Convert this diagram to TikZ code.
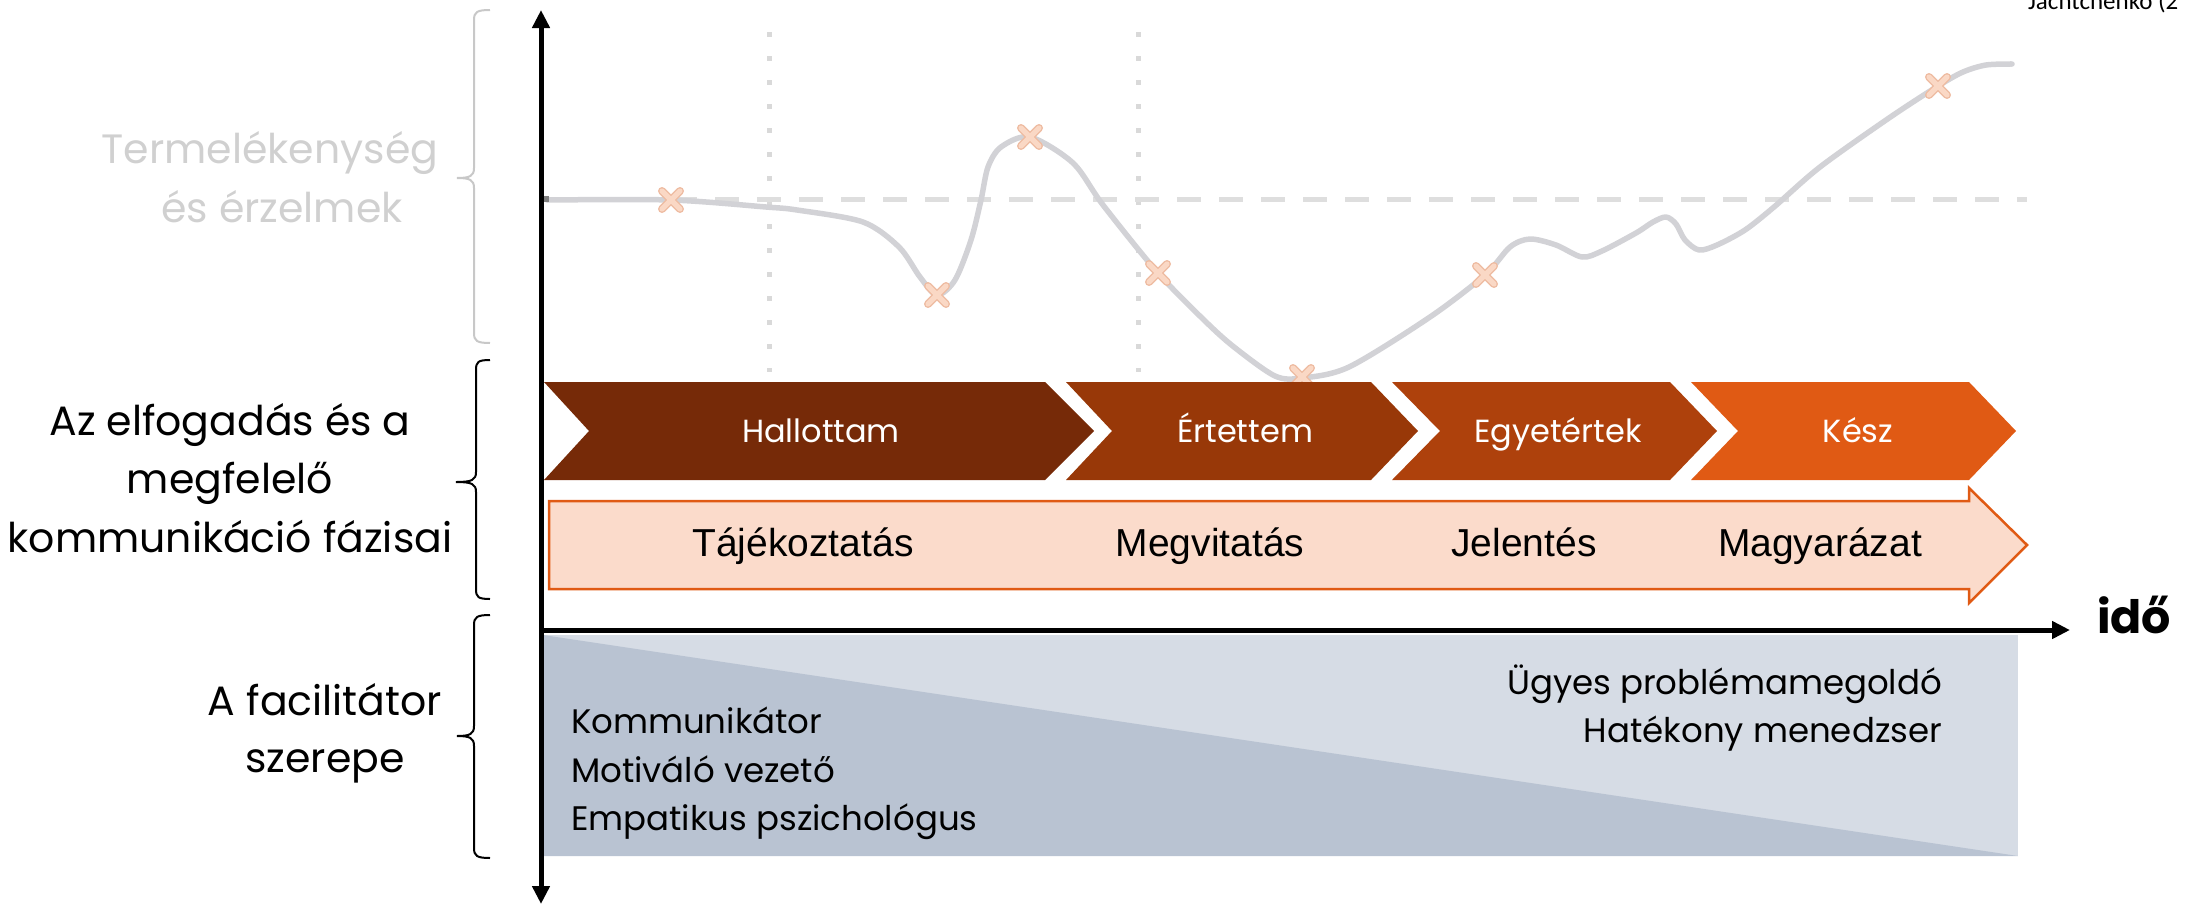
\documentclass[tikz,border=0pt]{standalone}
\usepackage{fontspec}
\usetikzlibrary{arrows.meta}
\newfontfamily\futfont{Poppins}
\newfontfamily\arifont{Liberation Sans}
\newfontfamily\califont{Carlito}
\definecolor{hallC}{RGB}{118,42,8}
\definecolor{ertC}{RGB}{152,56,8}
\definecolor{egyC}{RGB}{174,65,12}
\definecolor{keszC}{RGB}{224,90,20}
\definecolor{peachC}{RGB}{251,219,203}
\definecolor{lightReg}{RGB}{214,220,229}
\definecolor{darkReg}{RGB}{185,195,210}
\definecolor{curveC}{RGB}{210,210,214}
\definecolor{dashC}{RGB}{222,222,222}
\definecolor{dotC}{RGB}{217,217,217}
\definecolor{grayTxt}{RGB}{208,208,208}
\definecolor{grayBrace}{RGB}{200,200,200}
\definecolor{markIn}{RGB}{250,216,197}
\definecolor{markOut}{RGB}{238,188,162}
\begin{document}
\begin{tikzpicture}[x=1pt,y=-1pt,
  txt/.style={inner sep=0pt, outer sep=0pt},
  lbl/.style={txt, anchor=base, font=\futfont\fontsize{41}{49}\selectfont},
  graylbl/.style={lbl, text=grayTxt},
  chevtxt/.style={txt, anchor=base, text=white, font=\futfont\fontsize{32}{38}\selectfont},
  rowtxt/.style={txt, anchor=base, font=\arifont\fontsize{39}{47}\selectfont},
  roletxt/.style={txt, font=\futfont\fontsize{34}{41}\selectfont},
  axisline/.style={line width=5pt, line cap=butt},
  curveline/.style={draw=curveC, line width=5.5pt, line cap=round, line join=round},
  brace/.style={line width=2pt},
  markout/.style={draw=markOut, line width=8pt, line cap=round},
  markin/.style={draw=markIn, line width=5pt, line cap=round},
  xmark/.pic={
    \draw[markout] (-9,-9) -- (9,9) (-9,9) -- (9,-9);
    \draw[markin] (-9,-9) -- (9,9) (-9,9) -- (9,-9);
  }
]
\useasboundingbox (0,0) rectangle (2185,905);

% ---- role region (bottom)
\fill[lightReg] (543,635) rectangle (2018,856);
\fill[darkReg] (543,635) -- (2018,856) -- (543,856) -- cycle;

% ---- guide lines
\draw[dotC, line width=5pt, dash pattern=on 5pt off 19pt] (769,32) -- (769,372);
\draw[dotC, line width=5pt, dash pattern=on 5pt off 19pt] (1138,32) -- (1138,372);
\draw[dashC, line width=5pt, dash pattern=on 24pt off 18pt] (547,199) -- (2027,199);

% ---- curve
\draw[curveline] plot[smooth, tension=0.5] coordinates {
 (547,200) (671,200) (766,207) (797,210) (863,222) (899,247) (920,277) (937,295)
 (955,280) (971,240) (981,200) (988,167) (1001,147) (1030,137) (1073,163)
 (1103,205) (1158,273) (1205,321) (1234,347) (1275,376) (1302,378) (1349,367)
 (1430,317) (1485,275) (1510,247) (1530,239) (1556,245) (1582,257) (1602,251)
 (1636,233) (1653,222) (1666,217) (1676,224) (1685,240) (1699,250) (1717,245)
 (1745,230) (1774,207) (1820,167) (1889,118) (1938,86) (1963,72) (1986,65) (2012,64)};
\fill[gray] (540,196) rectangle (549,202);

\pic (m1) at (671,200) {xmark};
\pic (m2) at (937,295) {xmark};
\pic (m3) at (1030,137) {xmark};
\pic (m4) at (1158,273) {xmark};
\pic (m5) at (1302,377) {xmark};
\pic (m6) at (1485,275) {xmark};
\pic (m7) at (1938,86) {xmark};

% ---- chevrons
\fill[hallC] (544,382) -- (1045,382) -- (1094,431) -- (1045,480) -- (544,480) -- (589,431) -- cycle;
\fill[ertC] (1066,382) -- (1371,382) -- (1418,431) -- (1371,480) -- (1066,480) -- (1112,431) -- cycle;
\fill[egyC] (1392,382) -- (1670,382) -- (1717,431) -- (1670,480) -- (1392,480) -- (1440,431) -- cycle;
\fill[keszC] (1691,382) -- (1969,382) -- (2016,431) -- (1969,480) -- (1691,480) -- (1738,431) -- cycle;
\node[chevtxt] (hallottam) at (821,442) {Hallottam};
\node[chevtxt] (ertettem) at (1245,442) {Értettem};
\node[chevtxt] (egyetertek) at (1558,442) {Egyetértek};
\node[chevtxt] (kesz) at (1858,442) {Kész};

% ---- communication arrow
\filldraw[fill=peachC, draw=keszC, line width=2.5pt, line join=miter]
  (549,501) -- (1969,501) -- (1969,488) -- (2027,545) -- (1969,603) -- (1969,589) -- (549,589) -- cycle;
\node[rowtxt] (taj) at (803,556) {Tájékoztatás};
\node[rowtxt] (megv) at (1210,556) {Megvitatás};
\node[rowtxt] (jel) at (1524,556) {Jelentés};
\node[rowtxt] (magy) at (1820,556) {Magyarázat};

% ---- axes
\coordinate (vtop) at (541,10);
\coordinate (vbot) at (541,904);
\coordinate (hstart) at (539,630);
\coordinate (hend) at (2070,630);
\draw[axisline, {Triangle[length=18pt,width=17pt]}-{Triangle[length=18pt,width=17pt]}] (vbot) -- (vtop);
\draw[axisline, -{Triangle[length=18pt,width=17pt]}] (hstart) -- (hend);
\node[txt, anchor=base west, font=\futfont\bfseries\fontsize{46}{54}\selectfont] (ido) at (2097,633) {idő};

% ---- braces
\draw[grayBrace, brace] (490,10) .. controls (477,10) and (474,12) .. (474,20) -- (474,168)
  .. controls (474,176) and (470,178) .. (457,178) .. controls (470,178) and (474,180) .. (474,188)
  -- (474,333) .. controls (474,341) and (477,343) .. (490,343);
\draw[black, brace] (490,360) .. controls (478,360) and (476,362) .. (476,370) -- (476,472)
  .. controls (476,480) and (472,482) .. (456,482) .. controls (472,482) and (476,484) .. (476,492)
  -- (476,589) .. controls (476,597) and (478,599) .. (490,599);
\draw[black, brace] (490,615) .. controls (477,615) and (474,617) .. (474,625) -- (474,726)
  .. controls (474,734) and (470,736) .. (457,736) .. controls (470,736) and (474,738) .. (474,746)
  -- (474,848) .. controls (474,856) and (477,858) .. (490,858);

% ---- left labels
\node[graylbl] (term1) at (270,163) {Termelékenység};
\node[graylbl] (term2) at (282,222) {és érzelmek};
\node[lbl] (acc1) at (230,435) {Az elfogadás és a};
\node[lbl] (acc2) at (230,493) {megfelelő};
\node[lbl] (acc3) at (230,552) {kommunikáció fázisai};
\node[lbl] (fac1) at (325,715) {A facilitátor};
\node[lbl] (fac2) at (325,772) {szerepe};

% ---- roles
\node[roletxt, anchor=base west] (kom) at (571,733) {Kommunikátor};
\node[roletxt, anchor=base west] (mot) at (571,782) {Motiváló vezető};
\node[roletxt, anchor=base west] (emp) at (571,830) {Empatikus pszichológus};
\node[roletxt, anchor=base east] (ugy) at (1942,694) {Ügyes problémamegoldó};
\node[roletxt, anchor=base east] (hat) at (1942,742) {Hatékony menedzser};

% ---- source (clipped at the top edge, as in the reference)
\node[txt, anchor=base west, font=\califont\fontsize{25}{30}\selectfont] (src) at (2028,9) {Jachtchenko (2};
\end{tikzpicture}
\end{document}
